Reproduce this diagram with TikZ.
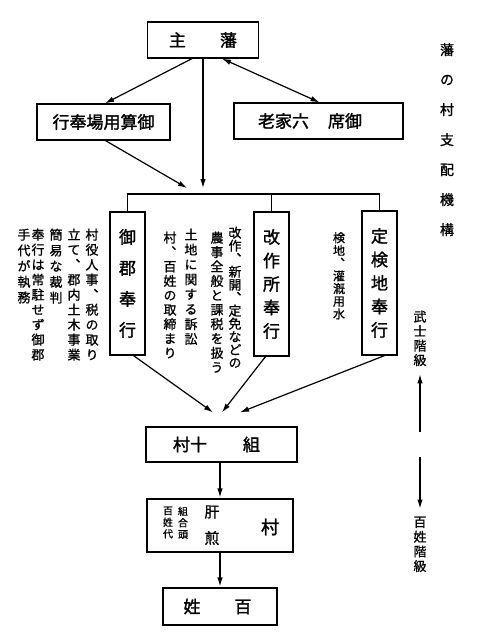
\documentclass[tikz,border=0pt]{standalone}
\usepackage{fontspec}
\setmainfont{Noto Sans CJK JP}
\newfontfamily\vjp[RawFeature=+vert,FakeBold=0.9]{Noto Sans CJK JP}
\newfontfamily\vjpl[RawFeature=+vert,FakeBold=1.6]{Noto Sans CJK JP}
\newfontfamily\hjp[FakeBold=1.6]{Noto Sans CJK JP}
\newfontfamily\hjps[FakeBold=0.9]{Noto Sans CJK JP}
\usetikzlibrary{arrows.meta,calc}
\begin{document}
\begin{tikzpicture}[x=1pt,y=-1pt,
  box/.style={draw,line width=1.2pt,inner sep=0pt},
  ln/.style={line width=1.2pt},
  arr/.style={line width=1.2pt,-{Latex[length=9pt,width=5.5pt]}},
  darr/.style={line width=1.2pt,{Latex[length=9pt,width=5.5pt]}-{Latex[length=9pt,width=5.5pt]}},
  lbl/.style={inner sep=0pt,font=\hjp\fontsize{17}{17}\selectfont},
  vlbl/.style={inner sep=0pt,align=center,font=\vjpl\fontsize{17}{#1}\selectfont},
  vcol/.style={inner sep=0pt,align=center,anchor=north,font=\vjp\fontsize{13}{#1}\selectfont},
  scol/.style 2 args={inner sep=0pt,align=center,anchor=north,font=\vjp\fontsize{#1}{#2}\selectfont},
]
\useasboundingbox[fill=white] (0,0) rectangle (480,640);

% main boxes
\node[box,minimum width=111pt,minimum height=36pt] (han) at (203,40) {};
\node[lbl] (hanT) at (203,40) {主\hspace{34pt}藩};
\node[box,minimum width=133pt,minimum height=36pt] (sanyo) at (103.5,122) {};
\node[lbl] (sanyoT) at (103.5,122) {行奉場用算御};
\node[box,minimum width=169pt,minimum height=36pt] (karo) at (318.5,121) {};
\node[lbl] (karoT) at (310,121) {老家六\hspace{19pt}席御};

% vertical bugyo boxes
\node[box,minimum width=35pt,minimum height=143pt] (gk) at (127.5,283.5) {};
\node[vlbl=31] (gkT) at (127.5,283.5) {御\\郡\\奉\\行};
\node[box,minimum width=35pt,minimum height=144pt] (kaisaku) at (271.5,284) {};
\node[vlbl=23.5] (kaisakuT) at (271.5,284) {改\\作\\所\\奉\\行};
\node[box,minimum width=35pt,minimum height=144pt] (kenchi) at (379.5,283) {};
\node[vlbl=23.5] (kenchiT) at (379.5,283) {定\\検\\地\\奉\\行};

% lower boxes
\node[box,minimum width=151pt,minimum height=35pt] (jusson) at (221.5,444.5) {};
\node[lbl] (jussonT) at (216.5,444.5) {村十\hspace{36pt}組};
\node[box,minimum width=146pt,minimum height=53pt] (kimo) at (220,525.5) {};
\node[scol={10}{11.5}] (kimoA) at (168,506.5) {百\\姓\\代};
\node[scol={10}{11.5}] (kimoB) at (183,506.5) {組\\合\\頭};
\node[inner sep=0pt,font=\hjps\fontsize{15}{15}\selectfont] (kimoC) at (212,512) {肝};
\node[inner sep=0pt,font=\hjps\fontsize{15}{15}\selectfont] (kimoD) at (212,538) {煎};
\node[inner sep=0pt,font=\hjp\fontsize{18}{18}\selectfont] (kimoE) at (270,527) {村};
\node[box,minimum width=114pt,minimum height=37pt] (hyaku) at (220,606.5) {};
\node[lbl] (hyakuT) at (217.5,606.5) {姓\hspace{34pt}百};

% descriptions (left group)
\node[vcol=15] (d1) at (92,228.5) {村\\役\\人\\事\\、\\税\\の\\取\\り};
\node[vcol=15] (d2) at (74,228.5) {立\\て\\、\\郡\\内\\土\\木\\事\\業};
\node[vcol=15.7] (d3) at (56,228.5) {簡\\易\\な\\裁\\判};
\node[vcol=15] (d4) at (38,228.5) {奉\\行\\は\\常\\駐\\せ\\ず\\御\\郡};
\node[vcol=15.7] (d5) at (24,228.5) {手\\代\\が\\執\\務};
% descriptions (middle group)
\node[vcol=13] (m1) at (235,226.5) {改\\作\\、\\新\\開\\、\\定\\免\\な\\ど\\の};
\node[vcol=14.4] (m2) at (217,231.5) {農\\事\\全\\般\\と\\課\\税\\を\\扱\\う};
\node[vcol=14.9] (m3) at (191,228.5) {土\\地\\に\\関\\す\\る\\訴\\訟};
\node[vcol=14.4] (m4) at (170,231.5) {村\\、\\百\\姓\\の\\取\\締\\ま\\り};
% description (right)
\node[scol={12}{12.7}] (r1) at (339,232) {検\\地\\、\\灌\\漑\\用\\水};

% title and class labels
\node[scol={14}{30}] (title) at (447,43) {藩\\の\\村\\支\\配\\機\\構};
\node[scol={13}{14.5}] (bushi) at (420,310.5) {武\\士\\階\\級};
\node[scol={13}{14.7}] (hyakc) at (420,516.5) {百\\姓\\階\\級};
\coordinate (upS) at (420,432);
\coordinate (dnS) at (420,457);

% connectors
\coordinate (busY) at (0,194);
\coordinate (tipA) at (187,188);
\coordinate (tipB) at (203,188);
\draw[arr] ($(han.south)+(-11,0)$) -- ($(sanyo.north)+(1.5,0)$);
\draw[darr] ($(han.south)+(19,0)$) -- ($(karo.north)+(1,0)$);
\draw[arr] (han.south) -- (tipB);
\draw[arr] ($(sanyo.south)+(2,0)$) -- (tipA);
\draw[ln] (gk.north) -- (gk.north |- busY) -- (kenchi.north |- busY) -- (kenchi.north);
\draw[ln] (kaisaku.north) -- (kaisaku.north |- busY);
\draw[arr] ($(gk.south)+(6,0)$) -- ($(jusson.north)+(-8.5,-14)$);
\draw[arr] ($(kaisaku.south)+(-6,0)$) -- ($(jusson.north)+(0.5,-14)$);
\draw[arr] ($(kenchi.south)+(5,0)$) -- ($(jusson.north)+(18.5,-14)$);
\draw[arr] ($(jusson.south)+(-1.5,0)$) -- ($(kimo.north)+(0,-1)$);
\draw[arr] (kimo.south) -- ($(hyaku.north)+(0,-1)$);
\draw[arr] (upS) -- ($(bushi.south)+(0,8)$);
\draw[arr] (dnS) -- ($(hyakc.north)+(0,-8)$);
\end{tikzpicture}
\end{document}
